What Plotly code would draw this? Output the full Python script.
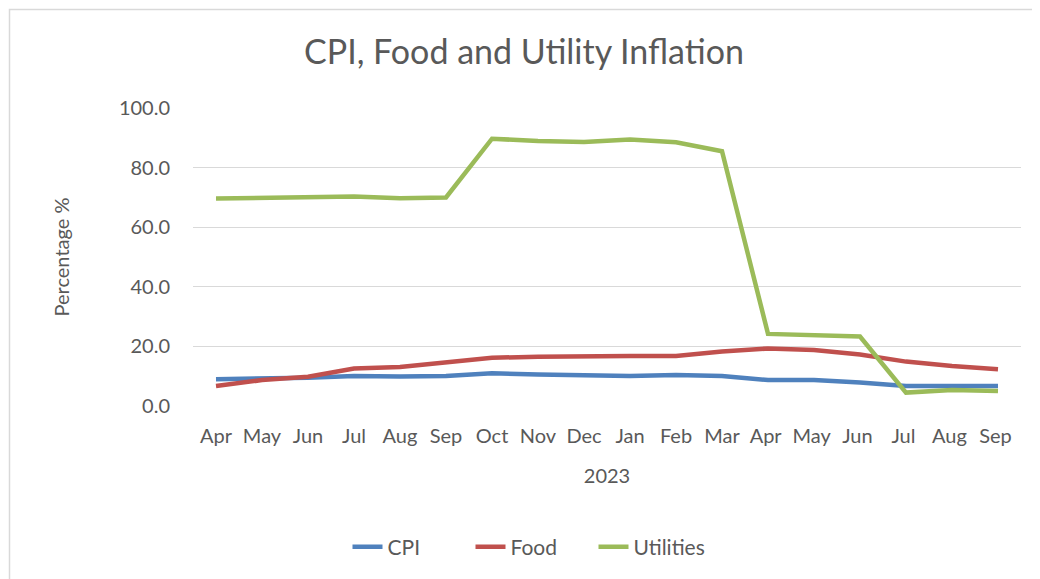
import plotly.graph_objects as go

months = ["Apr", "May", "Jun", "Jul", "Aug", "Sep", "Oct", "Nov", "Dec",
          "Jan", "Feb", "Mar", "Apr ", "May ", "Jun ", "Jul ", "Aug ", "Sep "]
cpi = [9.0, 9.1, 9.5, 10.1, 9.9, 10.1, 11.0, 10.6, 10.4, 10.1, 10.4, 10.1,
       8.7, 8.7, 7.9, 6.7, 6.7, 6.7]
food = [6.7, 8.7, 9.8, 12.6, 13.1, 14.6, 16.2, 16.5, 16.8, 16.8, 16.8, 18.3,
        19.3, 18.8, 17.3, 14.9, 13.4, 12.3]
utilities = [69.6, 69.8, 70.1, 70.3, 69.7, 70.0, 89.7, 88.9, 88.6, 89.4, 88.5,
             85.5, 24.2, 23.8, 23.3, 4.5, 5.4, 5.0]
tick_vals = [0, 20, 40, 60, 80, 100]

FONT = "Lato"
TXT = "#595959"

fig = go.Figure()
for name, vals, col in [("CPI", cpi, "#4F81BD"), ("Food", food, "#C0504D"),
                        ("Utilities", utilities, "#9BBB59")]:
    fig.add_trace(go.Scatter(x=months, y=vals, name=name, mode="lines",
                             line=dict(color=col, width=4.5)))

OFF = 8  # page body margin
W, H = 1040 - OFF, 579 - OFF
L, R, T, B = 193 - OFF, 1021 - OFF, 108 - OFF, 406 - OFF
pw, ph = R - L, B - T
x0 = (9.5 - OFF - L) / pw
y1 = (B - (9.5 - OFF)) / ph
x1 = (W + 5 - L) / pw
y0 = (B - (H + 5)) / ph

fig.update_layout(
    width=W, height=H,
    margin=dict(l=L, r=W - R, t=T, b=H - B),
    paper_bgcolor="white", plot_bgcolor="white",
    font=dict(family=FONT, color=TXT, size=20),
    title=dict(text="CPI, Food and Utility Inflation", x=0.5, xanchor="center",
               y=1 - (52 - OFF) / H, yanchor="middle",
               font=dict(family=FONT, size=34, color=TXT)),
    xaxis=dict(type="category", range=[-0.5, 17.5], showgrid=False,
               showline=False, ticks="", tickfont=dict(size=20, color=TXT),
               ticklabelstandoff=16,
               title=dict(text="2023", font=dict(size=20, color=TXT), standoff=22)),
    yaxis=dict(range=[0, 100], tickvals=tick_vals, tickformat=".1f",
               showgrid=True, gridcolor="#D9D9D9", gridwidth=1.3,
               zeroline=False, showline=False, ticks="",
               tickfont=dict(size=20, color=TXT), ticklabelstandoff=22,
               title=dict(text="Percentage %", font=dict(size=20, color=TXT),
                          standoff=43)),
    legend=dict(orientation="h", x=(532 - OFF - L) / pw, xanchor="center",
                y=(B - (547 - OFF)) / ph, entrywidth=78,
                yanchor="middle", font=dict(size=21, color=TXT),
                traceorder="normal"),
    shapes=[dict(type="rect", xref="paper", yref="paper", x0=x0, x1=x1,
                 y0=y0, y1=y1, line=dict(color="#D9D9D9", width=1.5),
                 layer="below")],
)

fig.write_html("out.html")
